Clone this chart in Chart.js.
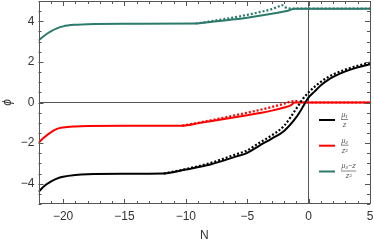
<!DOCTYPE html>
<html>
<head>
<meta charset="utf-8">
<script src="https://cdn.jsdelivr.net/npm/chart.js@4/dist/chart.umd.min.js"></script>
<style>
html,body{margin:0;padding:0;background:#fff;}
canvas{display:block;}
</style>
</head>
<body>
<canvas id="c" width="374" height="243"></canvas>
<script>
// ---- data ----
const xTicks = [-20, -15, -10, -5, 0, 5];
const yTicks = [-4, -2, 0, 2, 4];

const nBlack = [-22,-21.5,-21,-20.5,-20,-19,-18,-15,-11.8,-10,-8,-6,-5,-4,-3,-2,-1,-0.5,0,0.5,1,1.5,2,3,4,5];
const blackSolid = [-4.4,-4.1,-3.9,-3.75,-3.66,-3.57,-3.53,-3.51,-3.5,-3.3,-3.05,-2.68,-2.48,-2.12,-1.78,-1.4,-0.72,-0.25,0.25,0.55,0.85,1.08,1.26,1.53,1.73,1.88];
const nBlackDot = [-11.8,-10,-8,-6,-5,-4,-3,-2,-1,-0.5,0,0.5,1,1.5,2,3,4,5];
const blackDotted = [-3.5,-3.28,-2.98,-2.57,-2.36,-1.98,-1.62,-1.15,-0.3,0.15,0.5,0.78,1.02,1.22,1.38,1.62,1.81,1.96];

const nRed = [-22,-21.5,-21,-20.5,-20,-19,-18,-15,-10.3,-9,-8,-6,-5,-4,-3,-2,-1.5,-1.1,0,5];
const redSolid = [-1.98,-1.7,-1.47,-1.3,-1.23,-1.18,-1.16,-1.15,-1.14,-1.02,-0.92,-0.73,-0.63,-0.52,-0.4,-0.25,-0.15,0,0,0];
const nRedDot = [-10.3,-9,-8,-6,-5,-4,-3,-2,-1.5,-1.1,-0.5,0,5];
const redDotted = [-1.14,-1.0,-0.88,-0.63,-0.5,-0.37,-0.22,-0.06,0.04,0.08,0,0,0];

const nTeal = [-22,-21.5,-21,-20.5,-20,-19,-18,-15,-9.2,-8,-6,-5,-4,-3,-2,-1.5,-1.2,0,5];
const tealSolid = [3.05,3.3,3.5,3.65,3.75,3.83,3.86,3.88,3.89,3.97,4.1,4.18,4.27,4.37,4.48,4.56,4.62,4.62,4.62];
const nTealDot = [-9.2,-8,-6,-5,-4,-3,-2.4,-2.2,-1.8,-1.5,0,5];
const tealDotted = [3.89,4.0,4.2,4.32,4.45,4.6,4.74,4.8,4.66,4.63,4.62,4.62];

const legendItems = [
  {color: '#000000', num: 'μ\u2081', den: 'z'},
  {color: '#ff0000', num: 'μ\u2082', den: 'z\u00b2'},
  {color: '#2b7a6b', num: 'μ\u2083\u2212z', den: 'z\u00b2'}
];

// ---- helpers ----
const pts = (xs, ys) => xs.map((x, i) => ({x: x, y: ys[i]}));
const ds = (xs, ys, color, dotted) => ({
  data: pts(xs, ys),
  borderColor: color,
  borderWidth: dotted ? 2.2 : 2,
  borderDash: dotted ? [2, 2] : [],
  pointRadius: 0,
  showLine: true,
  fill: false,
  cubicInterpolationMode: 'monotone'
});

const FRAME = '#555555';
const TEXT = '#333333';

const framePlugin = {
  id: 'frame',
  afterDraw(chart) {
    const {ctx, chartArea: a, scales: {x, y}} = chart;
    ctx.save();
    ctx.strokeStyle = FRAME;
    ctx.lineWidth = 1;
    ctx.beginPath();
    for (let v = -22; v <= 5; v++) {
      const px = Math.round(x.getPixelForValue(v)) + 0.5;
      const len = (v % 5 === 0) ? 5 : 3;
      ctx.moveTo(px, a.bottom); ctx.lineTo(px, a.bottom - len);
      ctx.moveTo(px, a.top); ctx.lineTo(px, a.top + len);
    }
    for (let k = -10; k <= 10; k++) {
      const v = k * 0.5;
      const py = Math.round(y.getPixelForValue(v)) + 0.5;
      const len = (k % 4 === 0) ? 5 : 3;
      ctx.moveTo(a.left, py); ctx.lineTo(a.left + len, py);
      ctx.moveTo(a.right, py); ctx.lineTo(a.right - len, py);
    }
    ctx.stroke();
    ctx.strokeRect(Math.round(a.left) + 0.5, Math.round(a.top) + 0.5,
                   Math.round(a.right - a.left) - 1, Math.round(a.bottom - a.top) - 1);

    // legend
    const rows = [120, 145.7, 171.5];
    legendItems.forEach((it, i) => {
      const yy = rows[i];
      ctx.strokeStyle = it.color;
      ctx.lineWidth = 2;
      ctx.beginPath();
      ctx.moveTo(319, yy); ctx.lineTo(335, yy);
      ctx.stroke();
      ctx.font = 'italic 7px "Liberation Sans", Arial, sans-serif';
      ctx.fillStyle = '#555';
      ctx.textBaseline = 'middle';
      ctx.textAlign = 'center';
      const wN = ctx.measureText(it.num).width;
      const wD = ctx.measureText(it.den).width;
      const w = Math.max(wN, wD) + 1;
      const cx = 341 + w / 2;
      ctx.fillText(it.num, cx, yy - 5);
      ctx.fillText(it.den, cx, yy + 5);
      ctx.strokeStyle = '#555';
      ctx.lineWidth = 0.7;
      ctx.beginPath();
      ctx.moveTo(341, yy - 0.5); ctx.lineTo(341 + w, yy - 0.5);
      ctx.stroke();
    });
    ctx.restore();
  }
};

const zeroColor = c => (c.tick && c.tick.value === 0) ? '#555555' : 'rgba(0,0,0,0)';
const fmt = v => (v < 0 ? '\u2212' + Math.abs(v) : String(v));
const noPad = s => { s.paddingTop = 0; s.paddingBottom = 0; s.paddingLeft = 0; s.paddingRight = 0; };

new Chart(document.getElementById('c'), {
  type: 'scatter',
  data: {
    datasets: [
      ds(nBlack, blackSolid, '#000000', false),
      ds(nBlackDot, blackDotted, '#000000', true),
      ds(nRed, redSolid, '#ff0000', false),
      ds(nRedDot, redDotted, '#ff0000', true),
      ds(nTeal, tealSolid, '#2b7a6b', false),
      ds(nTealDot, tealDotted, '#2b7a6b', true)
    ]
  },
  options: {
    responsive: false,
    animation: false,
    devicePixelRatio: 1,
    layout: {padding: {left: 0, right: 4, top: 1, bottom: 0}},
    plugins: {legend: {display: false}, tooltip: {enabled: false}},
    scales: {
      x: {
        type: 'linear', min: -22, max: 5,
        afterBuildTicks: s => { s.ticks = xTicks.map(v => ({value: v})); },
        afterFit: s => { s.height = 39; noPad(s); },
        grid: {color: zeroColor, drawTicks: false, lineWidth: 1},
        border: {display: false},
        ticks: {color: TEXT, padding: 5, maxRotation: 0, autoSkip: false,
                font: {family: '"Liberation Sans", Arial, sans-serif', size: 12},
                callback: fmt},
        title: {display: true, text: 'N', color: TEXT, padding: {top: 0, bottom: 0},
                font: {family: '"Liberation Sans", Arial, sans-serif', size: 12}}
      },
      y: {
        type: 'linear', min: -5, max: 5,
        afterBuildTicks: s => { s.ticks = yTicks.map(v => ({value: v})); },
        afterFit: s => { s.width = 38.5; noPad(s); },
        grid: {color: zeroColor, drawTicks: false, lineWidth: 1},
        border: {display: false},
        ticks: {color: TEXT, padding: 4, autoSkip: false,
                font: {family: '"Liberation Sans", Arial, sans-serif', size: 12},
                callback: fmt},
        title: {display: true, text: 'ϕ', color: TEXT, padding: {top: 0, bottom: 0},
                font: {family: '"Liberation Sans", Arial, sans-serif', size: 12, style: 'italic'}}
      }
    }
  },
  plugins: [framePlugin]
});
</script>
</body>
</html>
